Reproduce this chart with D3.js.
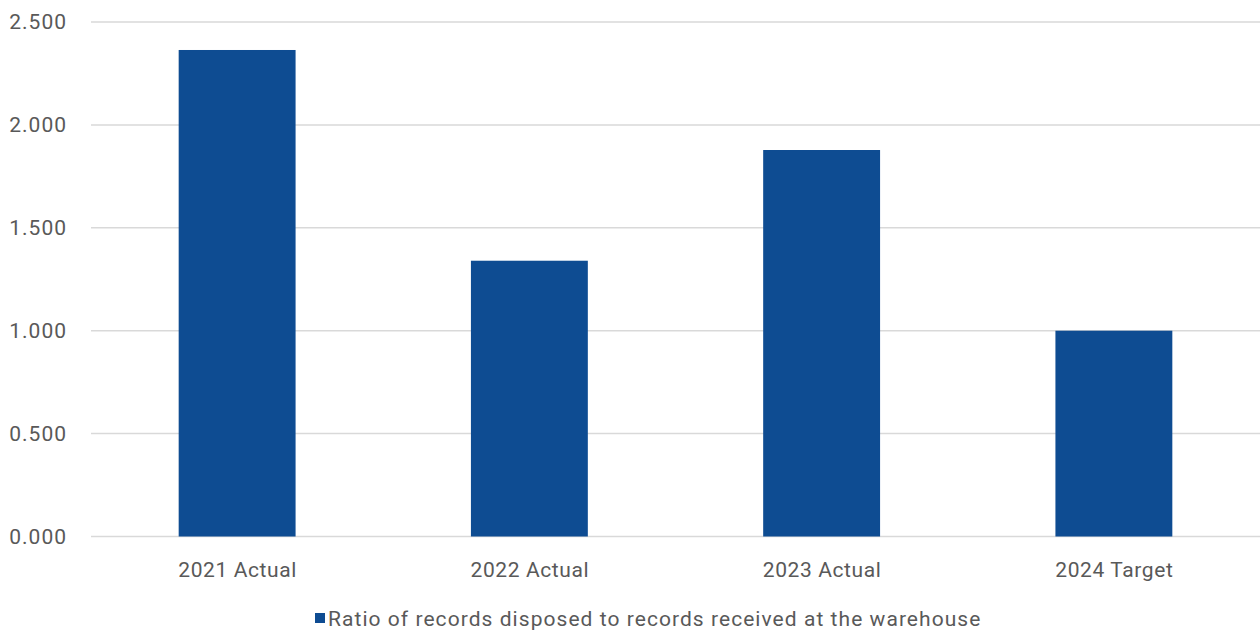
<!DOCTYPE html>
<html>
<head>
<meta charset="utf-8">
<script src="https://cdn.jsdelivr.net/npm/d3@7"></script>
<style>
  html, body { margin: 0; padding: 0; background: #fff; }
  svg { display: block; }
  text { font-family: Roboto, "Noto Sans", sans-serif; fill: #595959; }
</style>
</head>
<body>
<svg id="chart" width="1260" height="631"></svg>
<script>
const categories = ["2021 Actual", "2022 Actual", "2023 Actual", "2024 Target"];
const values = [2.364, 1.340, 1.878, 1.000];
const yTicks = [0, 0.5, 1.0, 1.5, 2.0, 2.5];
const seriesName = "Ratio of records disposed to records received at the warehouse";

const W = 1260, H = 631;
const margin = { left: 91, right: 0, top: 22, bottom: 94.5 };
const svg = d3.select("#chart");

const x = d3.scaleBand().domain(categories).range([margin.left, W - margin.right]).paddingInner(0.6).paddingOuter(0.3);
const y = d3.scaleLinear().domain([0, 2.5]).range([H - margin.bottom, margin.top]);

// gridlines
svg.append("g").selectAll("line").data(yTicks).join("line")
  .attr("x1", margin.left).attr("x2", W)
  .attr("y1", d => y(d)).attr("y2", d => y(d))
  .attr("stroke", "#d9d9d9").attr("stroke-width", 1.5);

// y labels
svg.append("g").selectAll("text").data(yTicks).join("text")
  .attr("x", 67).attr("y", d => y(d)).attr("dy", "0.35em")
  .attr("text-anchor", "end").style("font-size", "21px")
  .style("letter-spacing", "1px")
  .text(d => d3.format(".3f")(d));

// bars
svg.append("g").selectAll("rect").data(values).join("rect")
  .attr("x", (d, i) => x(categories[i]))
  .attr("width", x.bandwidth())
  .attr("y", d => y(d))
  .attr("height", d => y(0) - y(d))
  .attr("fill", "#0e4c92");

// x labels
svg.append("g").selectAll("text").data(categories).join("text")
  .attr("x", d => x(d) + x.bandwidth() / 2 + 0.5).attr("y", 577)
  .attr("text-anchor", "middle").style("font-size", "21px")
  .style("letter-spacing", "0.6px")
  .text(d => d);

// legend
const leg = svg.append("g");
leg.append("rect").attr("x", 315).attr("y", 613).attr("width", 10).attr("height", 10).attr("fill", "#0e4c92");
leg.append("text").attr("x", 328).attr("y", 626).style("font-size", "21px")
  .style("letter-spacing", "1.05px").text(seriesName);
</script>
</body>
</html>
